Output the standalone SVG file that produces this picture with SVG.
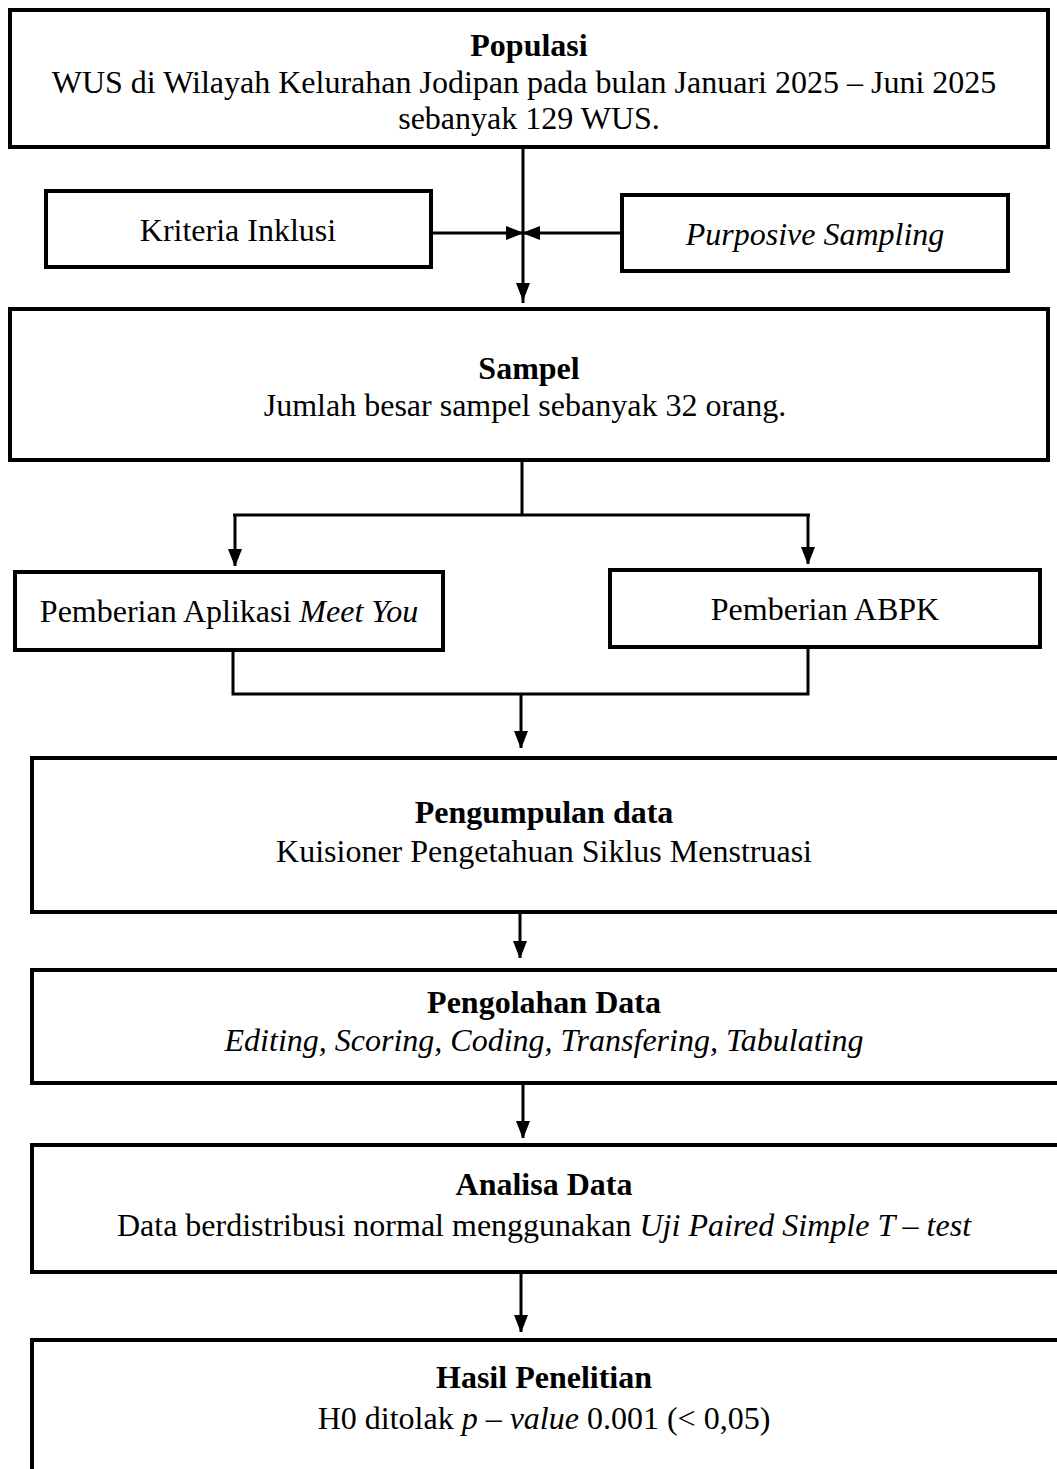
<svg xmlns="http://www.w3.org/2000/svg" width="1057" height="1469" viewBox="0 0 1057 1469">
<defs>
<marker id="ah" markerWidth="16" markerHeight="16" refX="17" refY="7" orient="auto" markerUnits="userSpaceOnUse">
<path d="M0,0 L18,7 L0,14 z" fill="#000"/>
</marker>
<style>
.box{fill:#fff;stroke:#000;stroke-width:4}
.ln{fill:none;stroke:#000;stroke-width:3}
text{font-family:"Liberation Serif","Times New Roman",serif;font-size:32px;fill:#000;text-anchor:middle}
.b{font-weight:bold}
.i{font-style:italic}
</style>
</defs>
<rect width="1057" height="1469" fill="#fff"/>
<g id="connectors">
<line class="ln" x1="523" y1="147" x2="523" y2="303"/>
<path d="M523,301 l-7,-18 h14 z" fill="#000"/>
<line class="ln" x1="431" y1="233" x2="523" y2="233" marker-end="url(#ah)"/>
<line class="ln" x1="622" y1="233" x2="523" y2="233" marker-end="url(#ah)"/>
<line class="ln" x1="522" y1="460" x2="522" y2="516"/>
<line class="ln" x1="233" y1="515" x2="810" y2="515"/>
<line class="ln" x1="235" y1="514" x2="235" y2="566" marker-end="url(#ah)"/>
<line class="ln" x1="808" y1="514" x2="808" y2="564" marker-end="url(#ah)"/>
<polyline class="ln" points="233,650 233,694 808,694 808,647"/>
<line class="ln" x1="521" y1="694" x2="521" y2="748" marker-end="url(#ah)"/>
<line class="ln" x1="520" y1="912" x2="520" y2="958" marker-end="url(#ah)"/>
<line class="ln" x1="523" y1="1083" x2="523" y2="1138" marker-end="url(#ah)"/>
<line class="ln" x1="521" y1="1272" x2="521" y2="1332" marker-end="url(#ah)"/>
</g>
<g id="populasi">
<rect class="box" x="10" y="10" width="1038" height="137"/>
<text class="b" x="529" y="56">Populasi</text>
<text x="524" y="93">WUS di Wilayah Kelurahan Jodipan pada bulan Januari 2025 – Juni 2025</text>
<text x="529" y="129">sebanyak 129 WUS.</text>
</g>
<g id="kriteria">
<rect class="box" x="46" y="191" width="385" height="76"/>
<text x="238" y="241">Kriteria Inklusi</text>
</g>
<g id="purposive">
<rect class="box" x="622" y="195" width="386" height="76"/>
<text class="i" x="815" y="245">Purposive Sampling</text>
</g>
<g id="sampel">
<rect class="box" x="10" y="309" width="1038" height="151"/>
<text class="b" x="529" y="379">Sampel</text>
<text x="525" y="416">Jumlah besar sampel sebanyak 32 orang.</text>
</g>
<g id="meetyou">
<rect class="box" x="15" y="572" width="428" height="78"/>
<text x="229" y="622">Pemberian Aplikasi <tspan class="i">Meet You</tspan></text>
</g>
<g id="abpk">
<rect class="box" x="610" y="570" width="430" height="77"/>
<text x="825" y="620">Pemberian ABPK</text>
</g>
<g id="pengumpulan">
<rect class="box" x="32" y="758" width="1030" height="154"/>
<text class="b" x="544" y="823">Pengumpulan data</text>
<text x="544" y="862">Kuisioner Pengetahuan Siklus Menstruasi</text>
</g>
<g id="pengolahan">
<rect class="box" x="32" y="970" width="1030" height="113"/>
<text class="b" x="544" y="1013">Pengolahan Data</text>
<text class="i" x="544" y="1051">Editing, Scoring, Coding, Transfering, Tabulating</text>
</g>
<g id="analisa">
<rect class="box" x="32" y="1145" width="1030" height="127"/>
<text class="b" x="544" y="1195">Analisa Data</text>
<text x="544" y="1236">Data berdistribusi normal menggunakan <tspan class="i">Uji Paired Simple T – test</tspan></text>
</g>
<g id="hasil">
<rect class="box" x="32" y="1340" width="1030" height="140"/>
<text class="b" x="544" y="1388">Hasil Penelitian</text>
<text x="544" y="1429">H0 ditolak <tspan class="i">p – value</tspan> 0.001 (&lt; 0,05)</text>
</g>
</svg>
